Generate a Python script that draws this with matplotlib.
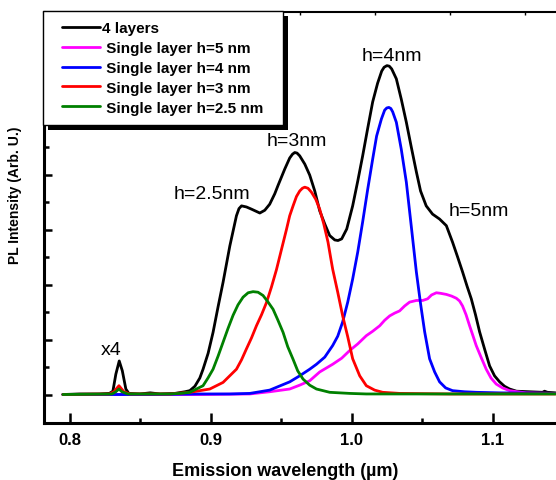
import matplotlib
matplotlib.use("Agg")
import matplotlib.pyplot as plt
from matplotlib.legend_handler import HandlerLine2D
from matplotlib.patches import Rectangle

plt.rcParams['font.family'] = ['Liberation Sans', 'DejaVu Sans']

# values (wavelength in um, intensity in arb. units)
wl_black = [0.795, 0.807, 0.821, 0.828, 0.8305, 0.8326, 0.835, 0.8372, 0.8397, 0.8418,
            0.8496, 0.857, 0.864, 0.8745, 0.8816, 0.8851, 0.8887, 0.8922, 0.8945, 0.8981,
            0.9016, 0.9052, 0.9087, 0.9135, 0.9182, 0.920, 0.9218, 0.9253, 0.9289, 0.9348,
            0.9383, 0.9418, 0.9454, 0.9477, 0.9525, 0.956, 0.958, 0.9596, 0.9612, 0.9631,
            0.9667, 0.9702, 0.9738, 0.9773, 0.9809, 0.9844, 0.988, 0.9903, 0.9929, 0.9965,
            1.0007, 1.0043, 1.0078, 1.0113, 1.0149, 1.0184, 1.0213, 1.023, 1.025, 1.0267,
            1.0284, 1.0317, 1.0352, 1.0388, 1.0423, 1.0459, 1.0489, 1.0529, 1.0574, 1.0624,
            1.0672, 1.0716, 1.0752, 1.0787, 1.0819, 1.0849, 1.0879, 1.0908, 1.0943, 1.0979,
            1.1014, 1.105, 1.1085, 1.1121, 1.117, 1.1262, 1.1355, 1.1369, 1.139, 1.1447]
pl_black = [0.0, 0.01, 0.01, 0.02, 0.06, 0.37, 0.61, 0.43, 0.10, 0.02,
            0.01, 0.03, 0.01, 0.02, 0.05, 0.07, 0.15, 0.30, 0.46, 0.75,
            1.13, 1.60, 2.04, 2.70, 3.25, 3.38, 3.43, 3.41, 3.37, 3.30,
            3.35, 3.46, 3.65, 3.80, 4.10, 4.30, 4.37, 4.40, 4.39, 4.34,
            4.19, 3.99, 3.70, 3.34, 3.10, 2.89, 2.81, 2.80, 2.83, 3.01,
            3.43, 3.88, 4.34, 4.83, 5.32, 5.66, 5.88, 5.95, 5.98, 5.97,
            5.92, 5.74, 5.37, 4.95, 4.50, 4.05, 3.70, 3.43, 3.28, 3.19,
            3.07, 2.77, 2.50, 2.23, 1.97, 1.74, 1.45, 1.14, 0.83, 0.52,
            0.34, 0.23, 0.15, 0.10, 0.06, 0.05, 0.04, 0.06, 0.04, 0.03]

wl_h5 = [0.795, 0.8922, 0.9277, 0.9418, 0.956, 0.9631, 0.9702, 0.9773, 0.9865, 0.9929,
         0.9986, 1.0043, 1.0104, 1.0149, 1.0199, 1.0234, 1.027, 1.0305, 1.034, 1.0376,
         1.0411, 1.0459, 1.0504, 1.0539, 1.0567, 1.0601, 1.0631, 1.0672, 1.0709, 1.0743,
         1.0766, 1.0787, 1.0812, 1.0837, 1.0862, 1.0884, 1.0918, 1.0955, 1.0989, 1.1026,
         1.1071, 1.1121, 1.1177, 1.1239, 1.1447]
pl_h5 = [0.0, 0.0, 0.01, 0.05, 0.10, 0.17, 0.25, 0.41, 0.55, 0.66,
         0.80, 0.92, 1.07, 1.15, 1.25, 1.35, 1.43, 1.48, 1.52, 1.61,
         1.68, 1.71, 1.71, 1.74, 1.81, 1.85, 1.84, 1.82, 1.79, 1.75,
         1.70, 1.61, 1.45, 1.25, 1.06, 0.89, 0.68, 0.46, 0.30, 0.19,
         0.12, 0.07, 0.05, 0.03, 0.02]

wl_h4 = [0.795, 0.8567, 0.8922, 0.9135, 0.9277, 0.9418, 0.956, 0.9631, 0.9702, 0.975,
         0.9809, 0.9865, 0.9901, 0.9936, 0.9972, 1.0007, 1.0043, 1.0078, 1.0113, 1.0149,
         1.0177, 1.0211, 1.0234, 1.0249, 1.0264, 1.0278, 1.0291, 1.0317, 1.0352, 1.0388,
         1.0423, 1.0459, 1.0489, 1.0518, 1.0553, 1.0589, 1.0624, 1.0667, 1.0716, 1.0801,
         1.0884, 1.105, 1.1447]
pl_h4 = [0.0, 0.0, 0.01, 0.01, 0.02, 0.08, 0.23, 0.34, 0.46, 0.55,
         0.68, 0.89, 1.06, 1.32, 1.68, 2.10, 2.59, 3.14, 3.72, 4.28,
         4.70, 5.01, 5.17, 5.21, 5.22, 5.20, 5.14, 4.95, 4.46, 3.86,
         3.06, 2.23, 1.65, 1.14, 0.65, 0.41, 0.23, 0.12, 0.07, 0.05,
         0.04, 0.03, 0.02]

wl_h3 = [0.795, 0.828, 0.8312, 0.8348, 0.8383, 0.8426, 0.8709, 0.8851, 0.8993, 0.9087,
         0.9182, 0.9218, 0.9253, 0.9289, 0.9324, 0.936, 0.9395, 0.943, 0.9466, 0.950,
         0.9537, 0.956, 0.9584, 0.9608, 0.9631, 0.965, 0.9667, 0.969, 0.9714, 0.9745,
         0.9773, 0.9802, 0.9832, 0.985, 0.9865, 0.9901, 0.9936, 0.9972, 1.0007, 1.0057,
         1.0104, 1.0163, 1.022, 1.034, 1.0695, 1.1447]
pl_h3 = [0.0, 0.01, 0.05, 0.16, 0.05, 0.01, 0.01, 0.04, 0.10, 0.22,
         0.46, 0.63, 0.83, 1.03, 1.25, 1.45, 1.67, 1.95, 2.27, 2.62,
         3.00, 3.25, 3.43, 3.60, 3.70, 3.75, 3.77, 3.75, 3.68, 3.55,
         3.37, 3.10, 2.77, 2.50, 2.28, 1.86, 1.43, 1.05, 0.65, 0.34,
         0.16, 0.08, 0.04, 0.02, 0.01, 0.01]

wl_h25 = [0.795, 0.8298, 0.8326, 0.8348, 0.8369, 0.8411, 0.8709, 0.878, 0.8851, 0.8945,
          0.898, 0.9016, 0.9052, 0.9087, 0.9122, 0.9158, 0.9193, 0.9229, 0.9265, 0.930,
          0.9335, 0.9371, 0.9404, 0.9442, 0.9475, 0.9513, 0.9546, 0.9584, 0.9617, 0.9655,
          0.9702, 0.975, 0.9844, 0.9986, 1.0104, 1.1447]
pl_h25 = [0.0, 0.01, 0.05, 0.10, 0.05, 0.01, 0.01, 0.02, 0.04, 0.16,
          0.30, 0.46, 0.70, 0.95, 1.20, 1.44, 1.63, 1.77, 1.85, 1.87,
          1.86, 1.80, 1.69, 1.55, 1.36, 1.13, 0.87, 0.64, 0.43, 0.28,
          0.17, 0.10, 0.04, 0.02, 0.01, 0.01]

series = [
    (wl_black, pl_black, 'black', '4 layers'),
    (wl_h5, pl_h5, '#ff00ff', ' Single layer h=5 nm'),
    (wl_h4, pl_h4, '#0000ff', ' Single layer h=4 nm'),
    (wl_h3, pl_h3, '#ff0000', ' Single layer h=3 nm'),
    (wl_h25, pl_h25, '#008000', ' Single layer h=2.5 nm'),
]

# peak labels: (text, wavelength, baseline intensity)
notes = [('x4', 0.8296, 0.74), ('h=2.5nm', 0.9007, 3.57), ('h=3nm', 0.9613, 4.54),
         ('h=4nm', 1.0282, 6.09), ('h=5nm', 1.0901, 3.27)]

fig = plt.figure(figsize=(5.56, 4.81), dpi=100)
ax = fig.add_axes([44 / 556, 57 / 481, 519 / 556, 411 / 481])

for wl, pl, col, lab in series:
    ax.plot(wl, pl, color=col, lw=2.0, label=lab,
            solid_joinstyle='round', solid_capstyle='round')

for txt, x, y in notes:
    ax.text(x, y, txt, ha='center', va='baseline', fontsize=14)

ax.set_xlim(0.7816, 1.1497)
ax.set_ylim(-0.518, 6.955)
ax.set_xticks([0.8, 0.9, 1.0, 1.1])
ax.set_xticklabels(['0.8', '0.9', '1.0', '1.1'], fontsize=12, fontweight='bold')
ax.set_xticks([0.85, 0.95, 1.05, 1.15], minor=True)
ax.set_yticks(range(0, 7))
ax.set_yticks([0.5, 1.5, 2.5, 3.5, 4.5, 5.5, 6.5], minor=True)
ax.tick_params(which='both', direction='in', width=1.8, labelleft=False)
ax.tick_params(axis='x', which='major', length=7, pad=6.5)
ax.tick_params(axis='x', which='minor', length=3.6)
ax.tick_params(axis='y', which='major', length=5.8)
ax.tick_params(axis='y', which='minor', length=3.6)
ax.tick_params(top=False, right=False, which='both')
for s in ['left', 'bottom']:
    ax.spines[s].set_linewidth(2.2)
ax.spines['top'].set_linewidth(1.5)

top = ax.secondary_xaxis('top')
top.set_xticks([0.80355, 0.85674, 0.90993, 0.96312, 1.01631, 1.0695, 1.1227])
top.tick_params(direction='in', length=2.2, width=1.0, labeltop=False)
top.spines['top'].set_visible(False)

ax.set_xlabel('Emission wavelength (\u00b5m)', fontsize=13, fontweight='bold')
ax.xaxis.label.set_va('baseline')
ax.xaxis.set_label_coords(0.4644, -0.1265)
ax.set_ylabel('PL Intensity (Arb. U.)', fontsize=10, fontweight='bold')
ax.yaxis.label.set_va('center')
ax.yaxis.set_label_coords(-0.0559, 0.557)

fs = 11
leg = ax.legend(loc='upper left', bbox_to_anchor=(-0.0019, 0, 0.4624, 1.0024),
                mode='expand', borderaxespad=0,
                prop={'weight': 'bold', 'size': fs},
                fancybox=False, framealpha=1, edgecolor='black',
                borderpad=0.68, labelspacing=0.38, handlelength=3.05,
                handletextpad=0.15,
                handler_map={plt.Line2D: HandlerLine2D(xpad=0.56)})
leg.get_frame().set_linewidth(1.0)
for h in leg.get_lines():
    h.set_linewidth(2.0)

# black drop shadow behind the legend, offset a few pixels
fig.canvas.draw()
bb = leg.get_window_extent()
inv = ax.transAxes.inverted()
(x0, y0), (x1, y1) = inv.transform([(bb.x0 + 5, bb.y0 - 5), (bb.x1 + 5, bb.y1 - 5)])
ax.add_artist(Rectangle((x0, y0), x1 - x0, y1 - y0, transform=ax.transAxes,
                        facecolor='black', edgecolor='none', zorder=4.9, clip_on=False))

fig.savefig('out.png', dpi=100)
